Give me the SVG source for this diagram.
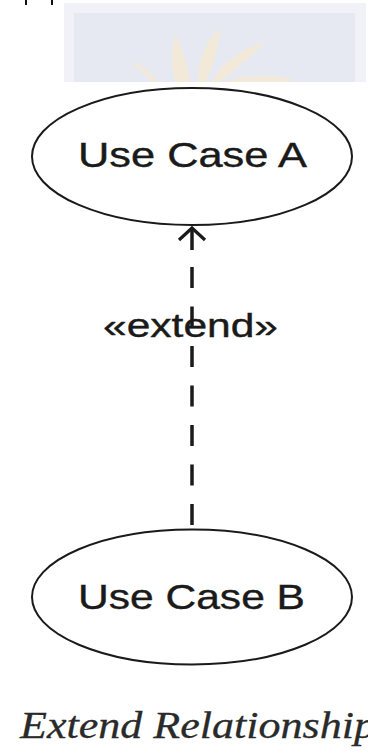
<svg xmlns="http://www.w3.org/2000/svg" width="368" height="751" viewBox="0 0 368 751">
  <style>
    .uc { fill: #ffffff; stroke: #1a1a1a; stroke-width: 2; }
    .lbl { font-family: "Liberation Sans", Arial, sans-serif; fill: #1a1a1a; stroke: #1a1a1a; stroke-width: 0.4; }
    .cap { font-family: "Liberation Serif", "Times New Roman", serif; font-style: italic; fill: #2a2a2a; stroke: #2a2a2a; stroke-width: 0.3; }
    .conn { stroke: #1a1a1a; stroke-width: 3.5; fill: none; }
  </style>
  <defs>
    <marker id="open" markerUnits="userSpaceOnUse" orient="auto" refX="0" refY="0" markerWidth="30" markerHeight="30" overflow="visible">
      <path d="M-12,-13 L0,0 L-12,13" fill="none" stroke="#1a1a1a" stroke-width="3.2"/>
    </marker>
  </defs>
  <rect width="368" height="751" fill="#ffffff"/>
  <g id="watermark">
    <rect x="64" y="3" width="302" height="79" fill="#f1f2f7"/>
    <rect x="74" y="13" width="281" height="69" fill="#e7e9f2"/>
    <g fill="#f6ead0" opacity="0.75">
      <path d="M175,82 C170,62 172,45 176,35 C183,50 188,68 190,82 Z"/>
      <path d="M198,82 C198,60 205,42 220,28 C218,50 212,68 206,82 Z"/>
      <path d="M212,82 C220,66 235,52 265,42 C250,58 232,72 220,82 Z"/>
      <path d="M158,82 C150,70 140,64 130,62 C140,70 148,76 152,82 Z"/>
      <path d="M225,82 C240,76 260,74 290,78 L290,82 Z"/>
    </g>
  </g>
  <g id="top-fragments" stroke="#111" stroke-width="2">
    <line x1="26" y1="0" x2="26" y2="5"/>
    <line x1="52" y1="0" x2="52" y2="5"/>
  </g>
  <g id="connectors">
    <path class="conn" d="M192,250 V228" marker-end="url(#open)"/>
    <path class="conn" d="M192,267 V528" stroke-dasharray="21 18.5"/>
    <text class="lbl" x="103" y="337" font-size="34" textLength="175" lengthAdjust="spacingAndGlyphs">«extend»</text>
  </g>
  <g id="useCaseA">
    <ellipse class="uc" cx="192" cy="156.5" rx="160" ry="68.5"/>
    <text class="lbl" x="78" y="167" font-size="35" textLength="229" lengthAdjust="spacingAndGlyphs">Use Case A</text>
  </g>
  <g id="useCaseB">
    <ellipse class="uc" cx="192" cy="597" rx="160" ry="67.5"/>
    <text class="lbl" x="78" y="609" font-size="35" textLength="227" lengthAdjust="spacingAndGlyphs">Use Case B</text>
  </g>
  <g id="caption">
    <text class="cap" x="20" y="738" font-size="38" textLength="356" lengthAdjust="spacingAndGlyphs">Extend Relationship</text>
  </g>
</svg>
